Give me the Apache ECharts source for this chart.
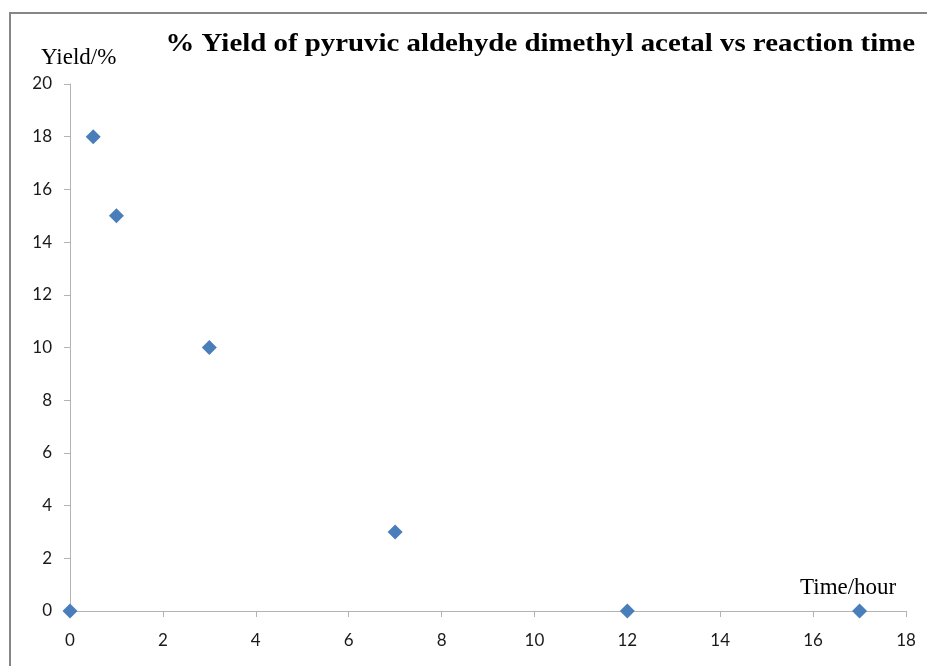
<!DOCTYPE html>
<html>
<head>
<meta charset="utf-8">
<script src="https://cdn.jsdelivr.net/npm/echarts@6/dist/echarts.min.js"></script>
<style>html,body{margin:0;padding:0;background:#fff}#c{width:927px;height:666px}</style>
</head>
<body>
<div id="c"></div>
<script>
var titleText = '% Yield of pyruvic aldehyde dimethyl acetal vs reaction time';
var xName = 'Time/hour';
var yName = 'Yield/%';
var times = [0, 0.5, 1, 3, 7, 12, 17];
var yields = [0, 18, 15, 10, 3, 0, 0];

var chart = echarts.init(document.getElementById('c'), null, {renderer: 'canvas'});
var data = times.map(function (t, i) { return [t, yields[i]]; });
var axisLabelStyle = {fontFamily: 'Lato', fontSize: 17, color: '#1a1a1a'};
chart.setOption({
  animation: false,
  backgroundColor: '#fff',
  grid: {left: 70, right: 21, top: 84, bottom: 55, containLabel: false},
  graphic: [
    {type: 'rect', shape: {x: 10, y: 13, width: 1000, height: 1000}, style: {fill: 'none', stroke: '#868686', lineWidth: 2}, silent: true, z: -1},
    {type: 'text', x: 915, y: 44, scaleX: 1.11, style: {x: 0, y: 0, text: titleText, font: 'bold 26px "Liberation Serif"', fill: '#000', align: 'right', verticalAlign: 'middle'}},
    {type: 'text', x: 41, y: 58, style: {x: 0, y: 0, text: yName, font: '23px "Liberation Serif"', fill: '#000', align: 'left', verticalAlign: 'middle'}},
    {type: 'text', x: 800, y: 588, style: {x: 0, y: 0, text: xName, font: '23px "Liberation Serif"', fill: '#000', align: 'left', verticalAlign: 'middle'}}
  ],
  xAxis: {
    type: 'value', min: 0, max: 18, interval: 2,
    axisLine: {show: true, onZero: false, lineStyle: {color: '#b3b3b3', width: 1}},
    axisTick: {show: true, length: 6, lineStyle: {color: '#b3b3b3'}},
    axisLabel: Object.assign({margin: 21}, axisLabelStyle),
    splitLine: {show: false}
  },
  yAxis: {
    type: 'value', min: 0, max: 20, interval: 2,
    axisLine: {show: true, onZero: false, lineStyle: {color: '#b3b3b3', width: 1}},
    axisTick: {show: true, length: 6, lineStyle: {color: '#b3b3b3'}},
    axisLabel: Object.assign({margin: 18}, axisLabelStyle),
    splitLine: {show: false}
  },
  series: [{
    type: 'scatter',
    data: data,
    symbol: 'diamond',
    symbolSize: 15,
    itemStyle: {color: '#4a7ebb', opacity: 1},
    clip: false
  }]
});
</script>
</body>
</html>
